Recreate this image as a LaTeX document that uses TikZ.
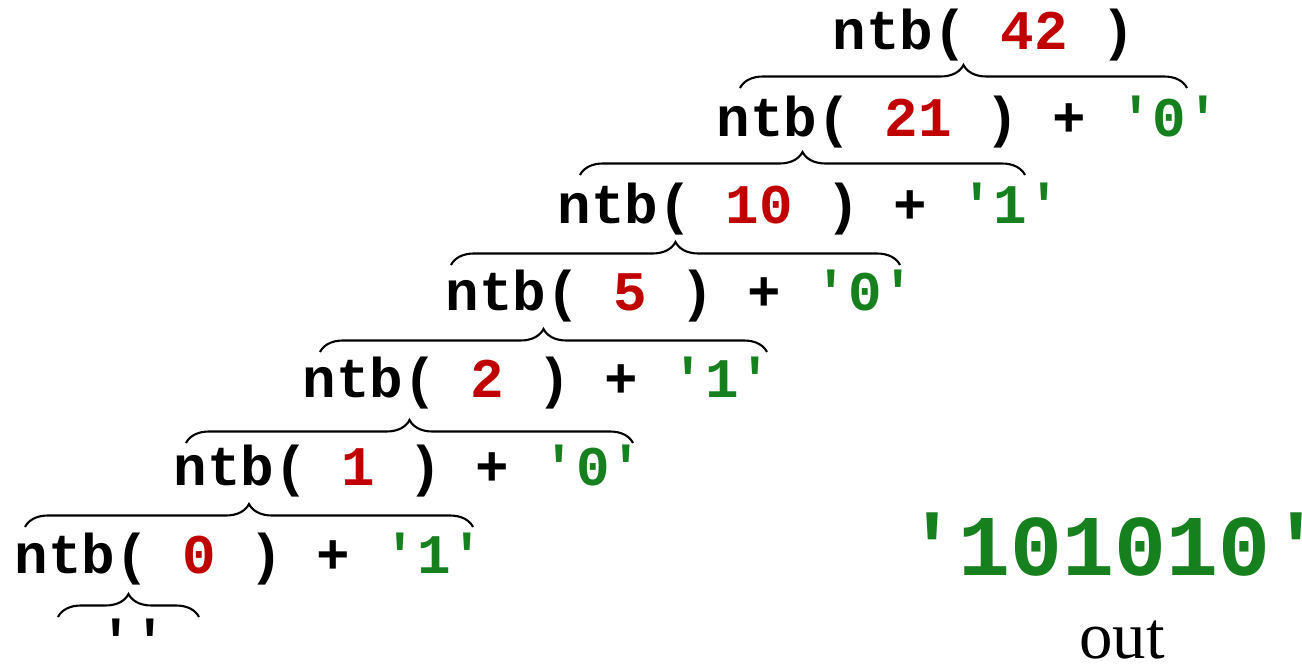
\documentclass[tikz,border=0pt]{standalone}
\usepackage{fontspec}
\setmainfont{Liberation Serif}
\setmonofont{Liberation Mono}
\usepackage{tikz}
\usetikzlibrary{decorations.pathreplacing}
\usepackage{xcolor}

\definecolor{argred}{RGB}{192,0,0}
\definecolor{bitgreen}{RGB}{22,128,30}
\newcommand{\ntbcall}[2]{ntb( \textcolor{argred}{#1} ) + \textcolor{bitgreen}{'#2'}}

\begin{document}
\begin{tikzpicture}[x=0.01cm,y=-0.01cm,
  code/.style={inner sep=0pt, anchor=base west, font=\fontsize{15.9}{18}\selectfont\ttfamily\bfseries},
  curly/.style={decorate, decoration={brace, amplitude=0.23cm}, line width=0.6pt}]
  \useasboundingbox (0,0) rectangle (1302,663);

  % Top call
  \node[code] (c42) at (832,49) {ntb( \textcolor{argred}{42} )};

  % Recursive calls: (name/x/baseline/argument/bit)
  \foreach \nm/\x/\y/\val/\bit in {%
    c21/716/136/21/0,
    c10/557/223/10/1,
    c5/445/310/5/0,
    c2/302/397/2/1,
    c1/173/485/1/0,
    c0/14/573/0/1%
  } {%
    \node[code] (\nm) at (\x,\y) {\ntbcall{\val}{\bit}};
  }
  \node[code] (cnil) at (99,659) {''};

  % Braces over each call (name/left/right/ends)
  \foreach \nm/\l/\r/\y in {%
    b21/740/1187/88,
    b10/580/1025/175,
    b5/451/900/265,
    b2/320/767/352,
    b1/186/633/443,
    b0/25/473/527,
    bnil/58/199/617%
  } {%
    \coordinate (\nm L) at (\l,\y);
    \coordinate (\nm R) at (\r,\y);
    \draw[curly] (\nm L) -- (\nm R);
  }

  % Result
  \node[code, font=\fontsize{24.6}{28}\selectfont\ttfamily\bfseries, text=bitgreen] (res) at (906,575) {'101010'};
  \node[inner sep=0pt, anchor=base, font=\fontsize{19}{22}\selectfont] (out) at (1122,658) {out};
\end{tikzpicture}
\end{document}
